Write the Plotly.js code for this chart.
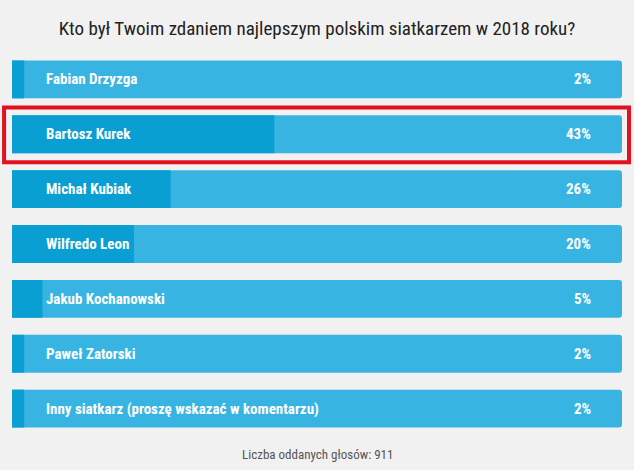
<!DOCTYPE html>
<html><head><meta charset="utf-8">
<script src="https://cdn.plot.ly/plotly-3.0.1.min.js"></script>
<style>html,body{margin:0;padding:0;background:#f1f1f1;}#chart{width:634px;height:470px;}</style>
</head><body><div id="chart"></div>
<script>
var titleText = "Kto był Twoim zdaniem najlepszym polskim siatkarzem w 2018 roku?";
var categories = ["Fabian Drzyzga","Bartosz Kurek","Michał Kubiak","Wilfredo Leon","Jakub Kochanowski","Paweł Zatorski","Inny siatkarz (proszę wskazać w komentarzu)"];
var percents = [2, 43, 26, 20, 5, 2, 2];
var fullScale = [100, 100, 100, 100, 100, 100, 100];
var highlighted = "Bartosz Kurek";
var footerText = "Liczba oddanych głosów: 911";

var condensed = "'Roboto Condensed', 'Liberation Sans Narrow', 'DejaVu Sans Condensed', Roboto, sans-serif";
var lightBlue = "#37b4e1";
var darkBlue = "#0a9fd2";

var traces = [
  {type:'bar', orientation:'h', y:categories, x:fullScale, marker:{color:lightBlue, cornerradius:3}, hoverinfo:'skip'},
  {type:'bar', orientation:'h', y:categories, x:percents, marker:{color:darkBlue}, hoverinfo:'skip'}
];

var annotations = [];
categories.forEach(function(c, i){
  annotations.push({xref:'paper', yref:'y', x:0, y:c, xanchor:'left', yanchor:'middle', xshift:32, showarrow:false,
    text:c, font:{family:condensed, size:15, color:'#ffffff', weight:'bold'}});
  annotations.push({xref:'paper', yref:'y', x:1, y:c, xanchor:'right', yanchor:'middle', xshift:-29, showarrow:false,
    text:percents[i] + '%', font:{family:condensed, size:15, color:'#ffffff', weight:'bold'}});
});
annotations.push({xref:'paper', yref:'paper', x:0.5, y:0, yanchor:'top', yshift:-9, showarrow:false,
  text:footerText, font:{family:condensed, size:13, color:'#555555'}});

var hi = categories.indexOf(highlighted);
var shapes = [{type:'rect', xref:'paper', yref:'y', x0:-0.013, x1:1.0115, y0:hi-0.49, y1:hi+0.51,
  line:{color:'#e3101f', width:4}, fillcolor:'rgba(0,0,0,0)', layer:'above'}];

var layout = {
  width:634, height:470,
  paper_bgcolor:'#f1f1f1', plot_bgcolor:'#f1f1f1',
  margin:{l:12, r:12, t:51.5, b:33.5},
  barmode:'overlay', bargap:0.31,
  showlegend:false,
  title:{text:titleText, x:0.5, xanchor:'center', y:0.94, yref:'container', yanchor:'middle',
    font:{family:condensed, size:19, color:'#222222'}},
  xaxis:{range:[0,100], visible:false, fixedrange:true},
  yaxis:{type:'category', range:[6.5,-0.5], visible:false, fixedrange:true},
  annotations:annotations, shapes:shapes
};

Plotly.newPlot('chart', traces, layout, {displayModeBar:false, staticPlot:true});
</script></body></html>
